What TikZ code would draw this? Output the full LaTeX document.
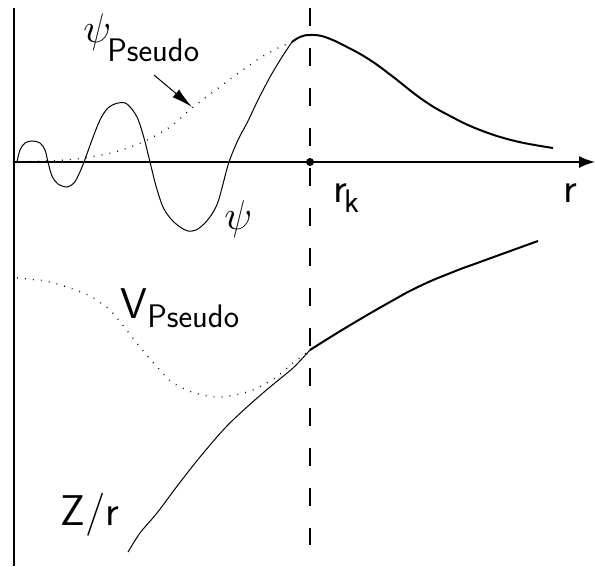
\documentclass[tikz,border=0pt]{standalone}
\usetikzlibrary{arrows.meta}
\newcommand{\subsz}{\fontsize{16.3}{19}\selectfont}
\begin{document}
\begin{tikzpicture}[
  x=0.5pt, y=-0.5pt,
  every node/.style={inner sep=0pt, anchor=base west, font=\fontsize{21.5}{25}\selectfont\sffamily},
  axisline/.style={line width=0.8pt},
  thinline/.style={line width=0.5pt},
  thickline/.style={line width=1pt},
  dotline/.style={line width=0.7pt, dash pattern=on 0.4pt off 3.6pt},
  cutline/.style={line width=0.6pt, dash pattern=on 9pt off 11pt},
  pointer/.style={line width=0.5pt, -{Latex[length=10.5pt,width=5pt]}}
]
\useasboundingbox (0,0) rectangle (595,567);
\coordinate (origin) at (14,162);
\coordinate (top) at (14,8);
\coordinate (bottom) at (14,566);
\coordinate (rend) at (595,162);
\coordinate (rk) at (310,162);
\coordinate (cuttop) at (310,8);
\coordinate (cutbottom) at (310,545);
\draw[axisline] (top) -- (bottom);
\draw[axisline, -{Latex[length=8pt,width=6pt]}] (origin) -- (rend);
\draw[cutline] (cuttop) -- (cutbottom);
\fill (rk) circle (4);
\draw[thinline] plot[smooth, tension=0.55] coordinates {
  (17,162) (20,150) (25,143) (32,141) (40,143) (45,150) (48,162) (52,176)
  (58,184) (67,187) (74,183) (79,174) (84,162) (92,140) (100,120) (108,108)
  (118,103) (127,104) (137,117) (144,138) (150,162) (156,186) (163,207) (171,219)
  (180,227) (188,231) (196,230) (204,224) (212,214) (218,202) (223,184) (229,162)
  (238,140) (247,123) (258,100) (270,77) (282,57) (292,42)};
\draw[thickline] plot[smooth, tension=0.7] coordinates {
  (292,42) (300,37) (310,35) (325,37) (347,47) (370,60) (392,76)
  (423,100) (450,116) (480,130) (515,141) (553,148)};
\draw[dotline] plot[smooth] coordinates {
  (14,162) (50,161) (84,158) (115,152) (143,142) (170,127) (192,108) (213,92)
  (233,77) (260,58) (280,47) (292,42)};
\draw[dotline] plot[smooth] coordinates {
  (17,278) (45,281) (67,287) (90,296) (110,310) (125,328) (140,347) (157,367)
  (173,383) (195,393) (217,397) (235,395) (253,390) (275,378) (293,363) (310,350)};
\draw[thinline] plot[smooth] coordinates {
  (128,552) (140,533) (157,513) (178,485) (200,457) (225,428) (247,407)
  (270,387) (293,368) (310,350)};
\draw[thickline] plot[smooth, tension=0.8] coordinates {
  (310,350) (347,327) (390,302) (420,286) (453,272) (480,262) (538,241)};
\node (psipseudo) at (83,43) {$\psi$\kern-2pt\raisebox{-9.5pt}{\subsz Pseudo}};
\node (psi) at (224,229) {$\psi$};
\node (vpseudo) at (120,318) {V\raisebox{-5pt}{\subsz Pseudo}};
\node (zr) at (60,525) {Z/r};
\node (rklabel) at (333,203) {r\kern-1.5pt\raisebox{-5pt}{\subsz k}};
\node (rlabel) at (563,203) {r};
\coordinate (arrstart) at (154,75);
\coordinate (arrtip) at (192,107);
\draw[pointer] (arrstart) -- (arrtip);
\end{tikzpicture}
\end{document}
